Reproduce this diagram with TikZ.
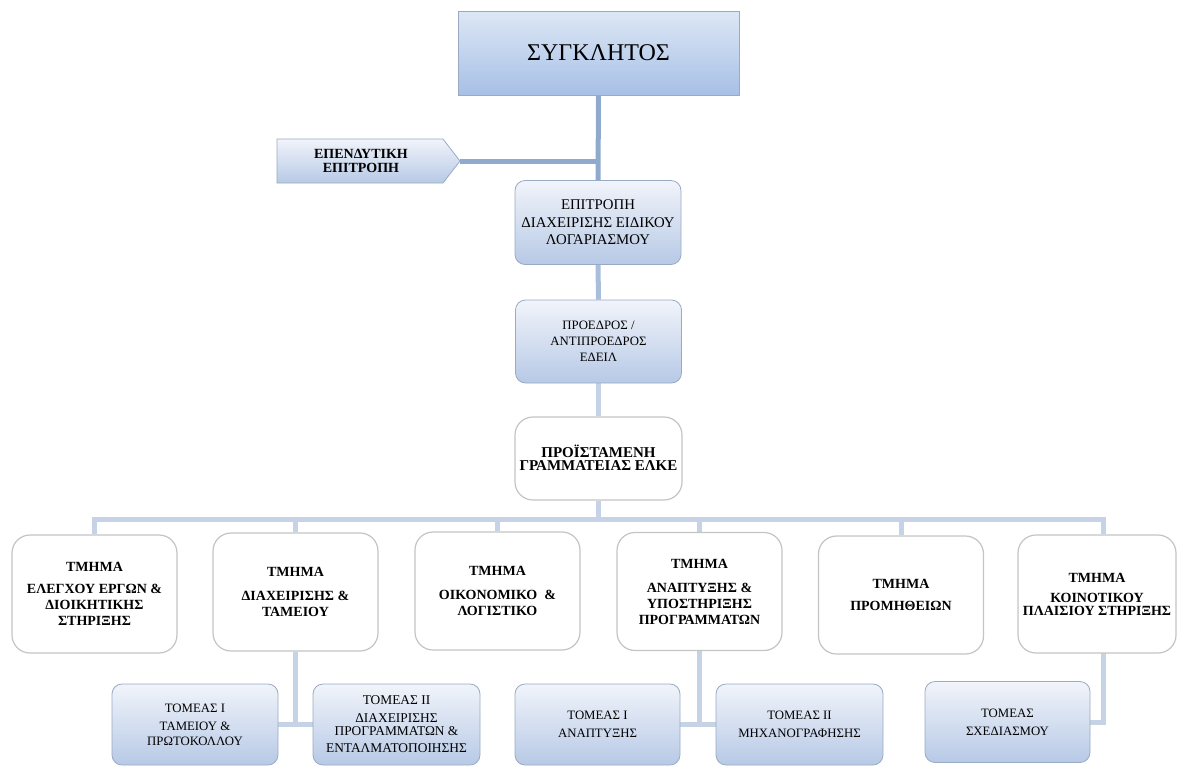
\documentclass[tikz,border=0pt]{standalone}
\usepackage{fontspec}
\setmainfont{Liberation Serif}
\pgfdeclarelayer{background}
\pgfsetlayers{background,main}
\definecolor{lineA}{HTML}{8FAACD}
\definecolor{lineB}{HTML}{A9BEDA}
\definecolor{lineC}{HTML}{C6D3E6}
\definecolor{gtop}{HTML}{F1F4FA}
\definecolor{gbot}{HTML}{B7C9E6}
\definecolor{gedge}{HTML}{9AAAC2}
\definecolor{stop}{HTML}{DDE7F5}
\definecolor{sbot}{HTML}{A7C0E6}
\definecolor{wedge}{HTML}{C4C4C4}
\begin{document}
\begin{tikzpicture}[x=1pt,y=-1pt,
  senbox/.style={draw=gedge, line width=1pt, top color=stop, bottom color=sbot,
    minimum width=281pt, minimum height=84pt, inner sep=0pt,
    font=\fontsize{24}{28}\selectfont},
  gbox/.style={draw=gedge, line width=0.8pt, rounded corners=10pt,
    top color=gtop, bottom color=gbot, inner sep=0pt, align=center},
  midbox/.style={gbox, minimum width=166pt, minimum height=84pt,
    font=\fontsize{14.8}{17.5}\selectfont},
  smallbox/.style={gbox, minimum width=166pt, minimum height=81pt,
    font=\fontsize{12.8}{15}\selectfont},
  wbox/.style={draw=wedge, line width=1.2pt, rounded corners=18pt, fill=white,
    minimum width=165pt, minimum height=118pt, inner sep=0pt, align=center,
    font=\fontsize{14}{16}\selectfont\bfseries},
  conA/.style={draw=lineA, line width=5pt},
  conB/.style={draw=lineB, line width=5pt},
  conC/.style={draw=lineC, line width=5pt}
]
\useasboundingbox (0,0) rectangle (1178,766);

% top levels
\node[senbox] (syn) at (598.5,53) {ΣΥΓΚΛΗΤΟΣ};
\coordinate (eptip) at (460,161);
\path[draw=gedge, line width=0.8pt, top color=gtop, bottom color=gbot]
  (277,139) -- (443,139) -- (eptip) -- (443,183) -- (277,183) -- cycle;
\node[align=center, font=\fontsize{14}{14}\selectfont\bfseries] (ep) at (361,161)
  {ΕΠΕΝΔΥΤΙΚΗ\\ΕΠΙΤΡΟΠΗ};
\node[midbox] (epi) at (598,222.5)
  {ΕΠΙΤΡΟΠΗ\\ΔΙΑΧΕΙΡΙΣΗΣ ΕΙΔΙΚΟΥ\\ΛΟΓΑΡΙΑΣΜΟΥ};
\node[midbox, minimum height=83pt, font=\fontsize{12.8}{16}\selectfont] (pro) at (598.5,341.5)
  {ΠΡΟΕΔΡΟΣ /\\ΑΝΤΙΠΡΟΕΔΡΟΣ\\ΕΔΕΙΛ};
\node[wbox, minimum width=167pt, minimum height=83pt, font=\fontsize{15}{13}\selectfont\bfseries] (pist) at (598.5,458.5)
  {\\[-2pt]ΠΡΟΪΣΤΑΜΕΝΗ\\ΓΡΑΜΜΑΤΕΙΑΣ ΕΛΚΕ};

% departments
\node[wbox] (d1) at (94.5,594) {ΤΜΗΜΑ\\[6pt]ΕΛΕΓΧΟΥ ΕΡΓΩΝ \&\\ΔΙΟΙΚΗΤΙΚΗΣ\\ΣΤΗΡΙΞΗΣ};
\node[wbox] (d2) at (295.5,592) {ΤΜΗΜΑ\\[8pt]ΔΙΑΧΕΙΡΙΣΗΣ \&\\ΤΑΜΕΙΟΥ};
\node[wbox] (d3) at (497.5,591) {ΤΜΗΜΑ\\[8pt]ΟΙΚΟΝΟΜΙΚΟ \ \&\\ΛΟΓΙΣΤΙΚΟ};
\node[wbox] (d4) at (699.5,591.5) {ΤΜΗΜΑ\\[8pt]ΑΝΑΠΤΥΞΗΣ \&\\ΥΠΟΣΤΗΡΙΞΗΣ\\ΠΡΟΓΡΑΜΜΑΤΩΝ};
\node[wbox] (d5) at (901,595) {ΤΜΗΜΑ\\[6pt]ΠΡΟΜΗΘΕΙΩΝ};
\node[wbox, minimum width=158pt, font=\fontsize{14}{13}\selectfont\bfseries] (d6) at (1097,594) {ΤΜΗΜΑ\\[7pt]ΚΟΙΝΟΤΙΚΟΥ\\ΠΛΑΙΣΙΟΥ ΣΤΗΡΙΞΗΣ};

% sectors
\node[smallbox] (t1) at (195,724.5) {ΤΟΜΕΑΣ Ι\\[3pt]ΤΑΜΕΙΟΥ \&\\ΠΡΩΤΟΚΟΛΛΟΥ};
\node[smallbox, minimum width=167pt, font=\fontsize{13.4}{13}\selectfont] (t2) at (396.5,724.5)
  {ΤΟΜΕΑΣ ΙΙ\\[5pt]ΔΙΑΧΕΙΡΙΣΗΣ\\ΠΡΟΓΡΑΜΜΑΤΩΝ \&\\[4pt]ΕΝΤΑΛΜΑΤΟΠΟΙΗΣΗΣ};
\node[smallbox, minimum width=165pt] (t3) at (597.5,724.5) {ΤΟΜΕΑΣ Ι\\[3pt]ΑΝΑΠΤΥΞΗΣ};
\node[smallbox, minimum width=167pt] (t4) at (799.5,724.5) {ΤΟΜΕΑΣ ΙΙ\\[3pt]ΜΗΧΑΝΟΓΡΑΦΗΣΗΣ};
\node[smallbox, minimum width=165pt] (t5) at (1007.5,722) {ΤΟΜΕΑΣ\\[3pt]ΣΧΕΔΙΑΣΜΟΥ};

\coordinate (bus) at (598.5,519);
\coordinate (d6drop) at (1103,653);

\begin{pgfonlayer}{background}
  \draw[conA] (syn.south) -- (epi.north);
  \draw[conA] (eptip) -- (eptip -| syn.south);
  \draw[conB] (epi.south) -- (pro.north);
  \draw[conC] (pro.south) -- (pist.north);
  \draw[conC] (pist.south) -- (bus);
  \draw[conC, line cap=rect] (d1.north |- bus) -- (d6drop |- bus);
  \foreach \d in {d1,d2,d3,d4,d5} { \draw[conC] (\d.north |- bus) -- (\d.north); }
  \draw[conC] (d6drop |- bus) -- (d6drop |- d6.north);
  \draw[conC] (d2.south) -- (d2.south |- t1.east);
  \draw[conC] (t1.east) -- (t2.west);
  \draw[conC] (d4.south) -- (d4.south |- t3.east);
  \draw[conC] (t3.east) -- (t4.west);
  \draw[conC] (d6drop) |- (t5.east);
\end{pgfonlayer}
\end{tikzpicture}
\end{document}
